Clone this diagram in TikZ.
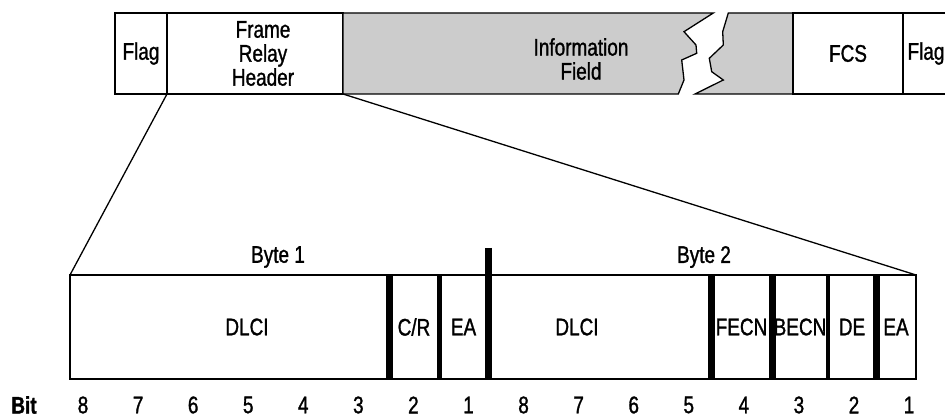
\documentclass[tikz,border=0pt]{standalone}
\usepackage{fontspec}
\setmainfont[FakeStretch=0.79, FakeBold=1.2]{Liberation Sans}
\usetikzlibrary{positioning}

\begin{document}
\begin{tikzpicture}[x=1pt, y=-1pt, line width=1.3pt,
  every node/.style={font=\fontsize{24}{24}\selectfont},
  field/.style={draw, outer sep=0pt, inner sep=0pt, minimum height=81pt, align=center},
  bitfield/.style={draw, outer sep=0pt, inner sep=0pt, minimum height=104pt},
  divider/.style={line width=#1}]
  \useasboundingbox (0,0) rectangle (945,419);
  % frame layout
  \node (flagL) [field, minimum width=52pt] at (141,53.5) {Flag};
  \node (header) [field, minimum width=176pt, right=0pt of flagL] {};
  \node (headertxt) [align=center] at ([xshift=8pt]header.center) {Frame\\Relay\\Header};
  \filldraw[fill=gray!40] (343,13) -- (713.3,13) -- (684,31.7) -- (696,45) -- (696.7,53.3) -- (681.7,60)
    -- (684,80) -- (678.3,94) -- (343,94) -- cycle;
  \filldraw[fill=gray!40] (728.3,13) -- (793,13) -- (793,94) -- (695,94) -- (723.3,80) -- (711.7,71.7)
    -- (709.3,58.3) -- (723.3,45) -- (722.7,31.7) -- cycle;
  \node (info) [align=center] at (581,59) {Information\\Field};
  \node (fcs) [field, minimum width=110pt] at (848,53.5) {FCS};
  \node (flagR) [field, minimum width=52pt, right=0pt of fcs] {};
  \node (flagRtxt) at ([xshift=-3pt]flagR.center) {Flag};
  % address field
  \node (dlciA) [bitfield, minimum width=319pt] at (229.5,327) {};
  \node (dlciAtxt) at ([xshift=17.5pt]dlciA.center) {DLCI};
  \node (cr) [bitfield, minimum width=50pt, right=0pt of dlciA] {C/R};
  \node (eaA) [bitfield, minimum width=49pt, right=0pt of cr] {EA};
  \node (dlciB) [bitfield, minimum width=223pt, right=0pt of eaA] {};
  \node (dlciBtxt) at ([xshift=-22.5pt]dlciB.center) {DLCI};
  \node (fecn) [bitfield, minimum width=61pt, right=0pt of dlciB] {FECN};
  \node (becn) [bitfield, minimum width=56pt, right=0pt of fecn] {BECN};
  \node (de) [bitfield, minimum width=48pt, right=0pt of becn] {DE};
  \node (eaB) [bitfield, minimum width=40pt, right=0pt of de] {EA};
  \draw[divider=7pt] (dlciA.north east) -- (dlciA.south east);
  \draw[divider=5pt] (cr.north east) -- (cr.south east);
  \draw[divider=7pt] ([yshift=27pt]eaA.north east) -- (eaA.south east);
  \draw[divider=7pt] (dlciB.north east) -- (dlciB.south east);
  \draw[divider=7pt] (fecn.north east) -- (fecn.south east);
  \draw[divider=4pt] (becn.north east) -- (becn.south east);
  \draw[divider=7pt] (de.north east) -- (de.south east);
  \node (byteA) at (278,257) {Byte 1};
  \node (byteB) at (704,257) {Byte 2};
  % bit numbers
  \node (bitlbl) at (24,405) {\bfseries Bit};
  \foreach \b [count=\i from 0] in {8,7,6,5,4,3,2,1,8,7,6,5,4,3,2,1}
    \node (bit\i) at (83+55.07*\i,405) {\b};
  % zoom lines
  \draw (flagL.south east) -- (dlciA.north west);
  \draw (header.south east) -- (eaB.north east);
\end{tikzpicture}
\end{document}
